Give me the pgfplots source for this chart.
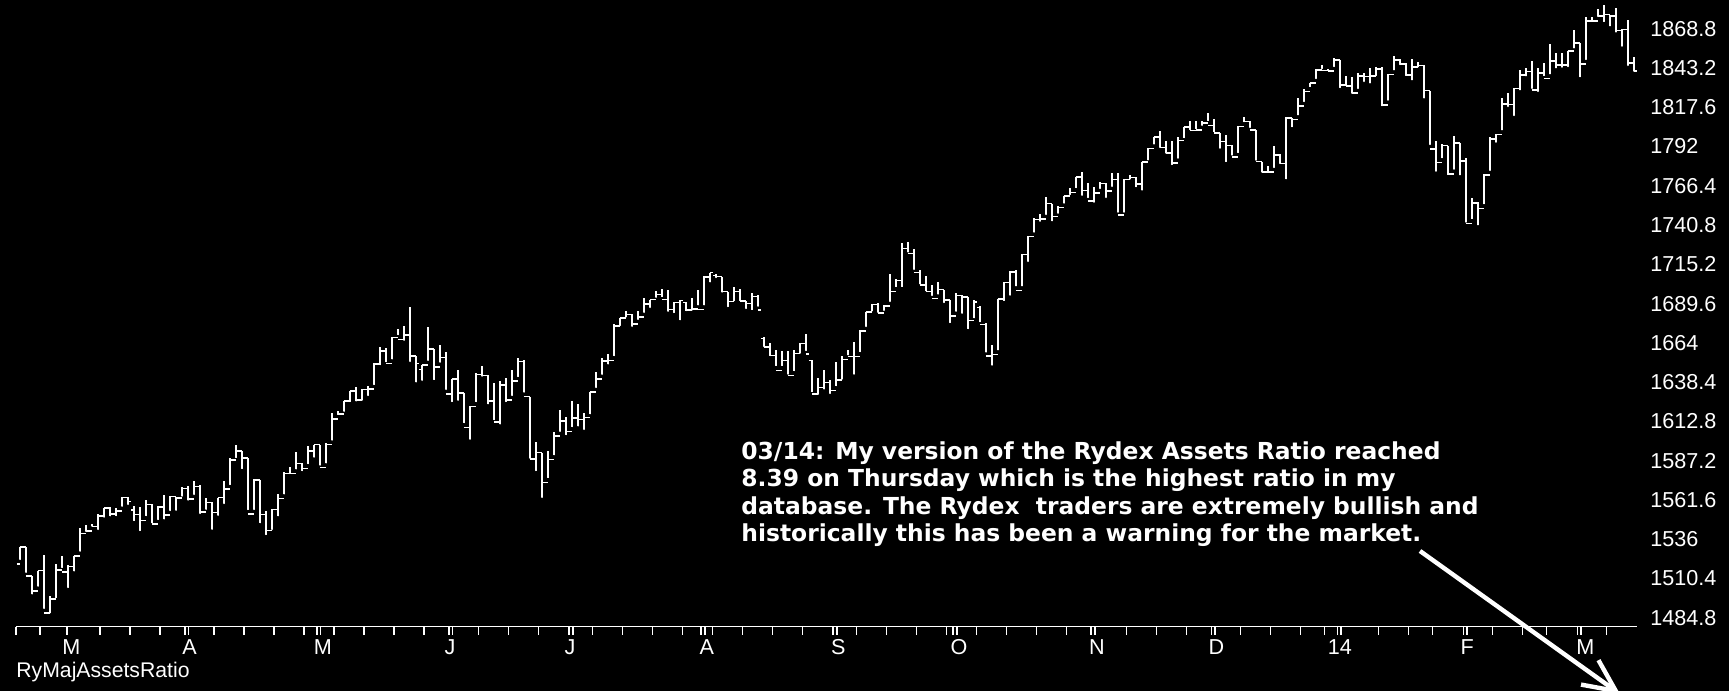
\documentclass[border=0pt]{standalone}
\usepackage{pgfplots}
\pgfplotsset{compat=1.18}
\usepackage{pgfplotstable}
\usepackage{fontspec}
\setmainfont{Liberation Sans}
\newfontfamily\dejavu{DejaVu Sans}
\usetikzlibrary{arrows.meta}

\pgfdeclareplotmark{otick}{\pgfpathmoveto{\pgfqpoint{-\pgfplotmarksize}{0pt}}\pgfpathlineto{\pgfqpoint{0pt}{0pt}}\pgfusepathqstroke}
\pgfdeclareplotmark{ctick}{\pgfpathmoveto{\pgfqpoint{0pt}{0pt}}\pgfpathlineto{\pgfqpoint{\pgfplotmarksize}{0pt}}\pgfusepathqstroke}

\pgfplotstableread{
i o h l c
0 1519.8 1530.9 1519.8 1530.9
1 1530.9 1530.9 1511.4 1511.9
2 1511.9 1511.9 1497.3 1502.4
3 1502.4 1515.6 1502.4 1515.6
4 1515.6 1525.8 1487.9 1487.9
5 1487.9 1498.9 1485.0 1496.9
6 1496.9 1520.1 1494.9 1516.0
7 1516.0 1525.3 1514.5 1514.7
8 1514.7 1519.0 1501.5 1518.2
9 1518.2 1525.3 1512.3 1525.2
10 1525.2 1543.5 1525.2 1539.8
11 1539.8 1545.3 1538.1 1541.5
12 1541.5 1545.8 1541.5 1544.3
13 1544.3 1552.5 1539.4 1551.2
14 1551.2 1556.3 1547.4 1556.2
15 1556.2 1556.8 1548.2 1552.5
16 1552.5 1556.4 1548.3 1554.5
17 1554.5 1563.3 1554.5 1563.2
18 1563.2 1563.6 1555.7 1560.7
19 1555.0 1557.7 1545.1 1552.1
20 1552.1 1557.3 1538.6 1548.3
21 1548.3 1561.6 1548.3 1558.7
22 1558.7 1558.7 1543.6 1545.8
23 1545.8 1557.7 1545.8 1556.9
24 1556.9 1564.9 1546.2 1551.7
25 1551.7 1563.9 1551.7 1563.8
26 1563.8 1563.8 1551.9 1562.9
27 1562.9 1570.3 1561.1 1569.2
28 1569.2 1570.6 1558.5 1562.2
29 1562.2 1573.7 1562.2 1570.3
30 1570.3 1571.5 1549.8 1553.7
31 1553.7 1562.6 1552.5 1560.0
32 1560.0 1560.0 1539.5 1553.3
33 1553.3 1563.1 1548.6 1563.1
34 1563.1 1573.9 1556.3 1568.6
35 1568.6 1589.1 1568.6 1587.7
36 1587.7 1597.4 1586.2 1593.4
37 1593.4 1593.4 1579.0 1588.9
38 1588.9 1588.9 1552.3 1552.4
39 1552.4 1575.4 1552.4 1574.6
40 1574.6 1574.6 1543.7 1552.0
41 1552.0 1554.4 1536.0 1541.6
42 1541.6 1555.9 1539.4 1555.3
43 1555.3 1565.6 1548.2 1562.5
44 1562.5 1579.6 1562.5 1578.8
45 1578.8 1583.0 1575.8 1578.8
46 1578.8 1592.6 1578.8 1585.2
47 1585.2 1585.8 1577.6 1582.2
48 1582.2 1596.7 1582.2 1593.6
49 1593.6 1597.6 1586.5 1597.6
50 1597.6 1597.6 1581.3 1582.7
51 1582.7 1598.6 1582.7 1597.6
52 1597.6 1618.5 1597.6 1614.4
53 1614.4 1619.8 1614.2 1617.5
54 1617.5 1626.0 1616.4 1626.0
55 1626.0 1632.8 1622.7 1632.7
56 1632.7 1635.0 1623.1 1626.7
57 1626.7 1633.7 1623.7 1633.7
58 1633.7 1636.0 1626.7 1633.8
59 1633.8 1651.1 1633.8 1650.3
60 1650.3 1661.5 1646.7 1658.8
61 1658.8 1660.5 1648.6 1650.5
62 1650.5 1667.5 1650.5 1667.5
63 1667.5 1672.8 1666.3 1666.3
64 1666.3 1674.9 1662.7 1669.2
65 1669.2 1687.2 1648.9 1655.4
66 1655.4 1655.4 1635.5 1650.5
67 1646.7 1649.8 1636.6 1649.6
68 1649.6 1674.2 1649.6 1660.1
69 1660.1 1660.1 1637.0 1648.4
70 1648.4 1662.7 1648.4 1654.4
71 1654.4 1658.0 1630.7 1630.7
72 1630.7 1640.4 1622.7 1640.4
73 1640.4 1646.5 1623.6 1631.4
74 1631.4 1631.4 1608.9 1608.9
75 1608.9 1622.6 1598.2 1622.6
76 1622.6 1644.4 1622.6 1643.4
77 1643.4 1648.7 1639.3 1642.8
78 1642.8 1642.8 1621.2 1626.1
79 1626.1 1637.7 1610.9 1612.5
80 1612.5 1639.3 1608.1 1636.4
81 1636.4 1640.8 1622.7 1626.7
82 1626.7 1646.5 1626.7 1639.0
83 1639.0 1654.2 1639.0 1651.8
84 1651.8 1652.5 1628.9 1628.9
85 1628.9 1628.9 1585.8 1588.2
86 1588.2 1599.2 1577.7 1592.4
87 1592.4 1592.4 1560.3 1573.1
88 1573.1 1593.8 1573.1 1588.0
89 1588.0 1606.0 1588.0 1603.3
90 1603.3 1620.1 1603.3 1613.2
91 1613.2 1615.9 1601.1 1606.3
92 1606.3 1626.1 1606.3 1615.0
93 1615.0 1624.3 1606.8 1614.1
94 1614.1 1618.0 1604.6 1615.4
95 1615.4 1632.1 1614.7 1631.9
96 1631.9 1644.7 1631.9 1640.5
97 1640.5 1654.2 1640.5 1652.3
98 1652.3 1656.9 1647.2 1652.6
99 1652.6 1676.3 1652.6 1675.0
100 1675.0 1680.2 1672.3 1680.2
101 1680.2 1684.5 1677.9 1682.5
102 1682.5 1683.0 1671.8 1676.3
103 1676.3 1684.8 1676.3 1680.9
104 1680.9 1693.1 1680.9 1689.4
105 1689.4 1692.1 1684.1 1692.1
106 1692.1 1697.6 1690.7 1695.5
107 1695.5 1698.8 1691.1 1692.4
108 1692.4 1698.4 1681.6 1685.9
109 1685.9 1690.9 1680.7 1690.3
110 1690.3 1691.7 1676.0 1691.7
111 1690.3 1690.9 1681.9 1685.3
112 1685.3 1693.2 1682.4 1686.0
113 1686.0 1698.4 1685.7 1685.7
114 1685.7 1707.9 1685.7 1706.9
115 1706.9 1709.7 1700.7 1709.7
116 1708.0 1709.2 1703.6 1707.1
117 1707.1 1707.1 1694.1 1697.4
118 1697.4 1697.4 1684.6 1690.9
119 1690.9 1700.2 1688.4 1697.5
120 1697.5 1699.4 1688.5 1691.4
121 1691.4 1691.4 1683.4 1689.5
122 1689.5 1696.8 1682.6 1694.2
123 1694.2 1695.0 1684.9 1685.4
124 1667.0 1668.0 1658.6 1661.3
125 1661.3 1663.6 1652.6 1655.8
126 1655.8 1659.2 1646.1 1646.1
127 1646.1 1658.9 1646.1 1652.4
128 1652.4 1658.4 1640.6 1642.8
129 1642.8 1659.6 1642.8 1657.0
130 1657.0 1664.0 1654.3 1663.5
131 1663.5 1669.5 1656.0 1656.8
132 1652.5 1652.5 1629.1 1630.5
133 1630.5 1641.2 1627.5 1635.0
134 1635.0 1646.4 1630.9 1638.2
135 1638.2 1640.1 1628.0 1633.0
136 1633.0 1651.4 1633.0 1639.8
137 1639.8 1655.7 1637.4 1653.1
138 1653.1 1659.1 1653.1 1655.1
139 1655.1 1664.8 1640.6 1655.2
140 1655.2 1672.4 1655.2 1671.7
141 1671.7 1684.1 1671.7 1684.0
142 1684.0 1689.1 1681.8 1689.1
143 1689.1 1689.9 1680.9 1683.4
144 1683.4 1688.4 1682.2 1688.0
145 1688.0 1709.2 1688.0 1697.6
146 1697.6 1705.5 1697.6 1704.8
147 1704.8 1729.4 1697.6 1725.5
148 1725.5 1729.9 1720.2 1722.3
149 1722.3 1725.2 1708.9 1709.9
150 1709.9 1711.4 1699.4 1701.8
151 1701.8 1707.6 1694.9 1697.4
152 1697.4 1701.7 1691.9 1692.8
153 1692.8 1703.9 1692.8 1698.7
154 1698.7 1698.7 1687.3 1691.8
155 1691.8 1691.8 1674.2 1681.6
156 1681.6 1696.5 1681.6 1695.0
157 1695.0 1695.0 1680.3 1693.9
158 1693.9 1693.9 1670.2 1678.7
159 1678.7 1691.9 1677.3 1690.5
160 1687.2 1687.8 1674.7 1676.1
161 1676.1 1676.8 1655.0 1655.5
162 1655.5 1662.4 1646.5 1656.4
163 1656.4 1692.6 1656.4 1692.6
164 1692.6 1703.4 1688.5 1703.2
165 1703.2 1711.0 1692.1 1710.1
166 1710.1 1711.2 1698.1 1698.1
167 1698.1 1721.8 1698.1 1721.5
168 1721.5 1733.5 1714.1 1733.2
169 1733.2 1745.3 1733.2 1744.5
170 1744.5 1747.8 1740.3 1744.7
171 1744.7 1759.3 1744.7 1754.7
172 1754.7 1754.7 1740.5 1746.4
173 1746.4 1753.4 1745.5 1752.1
174 1752.1 1759.8 1752.1 1759.8
175 1759.8 1764.8 1757.7 1762.1
176 1762.1 1772.1 1762.1 1772.0
177 1772.0 1775.2 1757.2 1763.3
178 1763.3 1768.5 1755.7 1756.5
179 1756.5 1765.7 1752.7 1761.6
180 1761.6 1768.8 1761.6 1767.9
181 1767.9 1767.9 1755.8 1763.0
182 1763.0 1774.5 1763.0 1770.5
183 1770.5 1774.5 1746.2 1747.2
184 1747.2 1770.8 1746.2 1770.6
185 1770.6 1773.4 1767.8 1771.9
186 1771.9 1771.9 1762.7 1767.7
187 1767.7 1782.0 1760.6 1782.0
188 1782.0 1791.0 1780.2 1790.6
189 1790.6 1798.2 1790.6 1798.2
190 1798.2 1802.3 1788.4 1791.5
191 1791.5 1795.5 1784.7 1787.9
192 1787.9 1795.6 1777.2 1781.4
193 1781.4 1798.2 1781.4 1795.9
194 1795.9 1804.8 1794.7 1804.8
195 1804.8 1808.4 1800.0 1802.5
196 1802.5 1808.4 1800.6 1802.8
197 1802.8 1808.4 1802.8 1807.2
198 1807.2 1813.6 1805.8 1805.8
199 1805.8 1810.0 1798.6 1800.9
200 1800.9 1800.9 1787.9 1795.2
201 1795.2 1799.8 1779.1 1792.8
202 1792.8 1792.8 1783.4 1785.0
203 1785.0 1805.1 1785.0 1805.1
204 1805.1 1811.5 1805.1 1808.4
205 1808.4 1808.4 1801.4 1802.6
206 1802.6 1802.6 1780.1 1782.2
207 1782.2 1782.2 1772.3 1775.5
208 1775.5 1779.4 1772.9 1775.3
209 1775.3 1792.2 1775.3 1786.5
210 1786.5 1786.8 1777.9 1781.0
211 1781.0 1811.1 1767.9 1810.6
212 1810.6 1810.6 1801.8 1809.6
213 1809.6 1823.8 1809.6 1818.3
214 1818.3 1829.8 1818.3 1828.0
215 1828.0 1833.3 1828.0 1833.3
216 1833.3 1842.8 1833.3 1842.0
217 1842.0 1844.9 1839.8 1841.4
218 1841.4 1842.5 1838.8 1841.1
219 1841.1 1849.4 1841.1 1848.4
220 1848.4 1848.4 1827.4 1832.0
221 1832.0 1838.2 1829.1 1831.4
222 1831.4 1837.2 1823.7 1826.8
223 1826.8 1840.1 1826.8 1837.9
224 1837.9 1840.0 1831.4 1837.5
225 1837.5 1843.2 1830.4 1838.1
226 1838.1 1843.8 1835.2 1842.4
227 1842.4 1843.5 1815.5 1819.2
228 1819.2 1839.3 1819.2 1838.9
229 1838.9 1850.8 1838.9 1848.4
230 1848.4 1849.3 1842.4 1845.9
231 1845.9 1846.5 1835.2 1838.7
232 1838.7 1849.3 1832.4 1843.8
233 1843.8 1846.9 1840.9 1844.9
234 1844.9 1844.9 1820.6 1828.5
235 1828.5 1828.5 1790.3 1790.3
236 1790.3 1795.4 1772.9 1781.6
237 1781.6 1793.9 1781.6 1792.5
238 1792.5 1792.5 1770.6 1774.2
239 1774.2 1798.8 1774.2 1794.2
240 1794.2 1794.2 1770.5 1782.6
241 1782.6 1784.8 1739.7 1741.9
242 1741.9 1758.7 1741.9 1755.2
243 1755.2 1755.8 1737.9 1751.6
244 1751.6 1774.1 1751.6 1773.4
245 1773.4 1798.0 1773.4 1797.0
246 1797.0 1799.9 1791.8 1799.8
247 1799.8 1823.5 1799.8 1819.8
248 1819.8 1826.6 1815.1 1819.3
249 1819.3 1830.1 1809.2 1829.8
250 1829.8 1841.7 1825.9 1838.6
251 1838.6 1842.9 1835.0 1840.8
252 1840.8 1847.5 1826.9 1828.8
253 1828.8 1842.9 1824.9 1839.8
254 1839.8 1846.7 1835.2 1836.3
255 1836.3 1858.7 1836.3 1847.6
256 1847.6 1852.9 1840.2 1845.1
257 1845.1 1852.7 1840.7 1845.2
258 1845.2 1854.5 1841.1 1854.3
259 1854.3 1867.9 1853.2 1859.5
260 1859.5 1859.5 1834.4 1845.7
261 1845.7 1876.2 1845.7 1873.9
262 1873.9 1876.5 1871.1 1873.8
263 1873.8 1881.9 1873.8 1877.0
264 1877.0 1884.0 1870.4 1878.0
265 1878.0 1878.0 1867.6 1877.2
266 1877.2 1882.4 1863.6 1867.6
267 1867.6 1868.4 1854.4 1868.2
268 1868.2 1874.4 1841.9 1846.3
269 1846.3 1850.6 1838.1 1841.1
}\ohlc

\begin{document}
\begin{tikzpicture}
\fill[black] (0,0) rectangle (864.5pt,345.5pt);
\useasboundingbox (0,0) rectangle (864.5pt,345.5pt);
\begin{axis}[
  at={(8pt,32.25pt)}, anchor=south west,
  scale only axis, width=810.5pt, height=313.25pt,
  xmin=-0.63, xmax=269.5, ymin=1479.1, ymax=1887.5,
  axis x line*=bottom, axis y line*=right,
  x axis line style={white, line width=0.9pt},
  y axis line style={draw=none},
  xtick={-0.63,3.4,7.9,13.4,18.4,23.4,27.55,28.15,32.4,37.4,42.4,47.4,49.55,50.15,52.4,57.4,62.4,67.4,71.55,72.15,76.4,81.4,86.4,91.55,92.15,95.4,100.4,105.4,110.4,113.55,114.15,115.4,120.4,125.4,130.4,135.55,136.15,139.4,144.4,149.4,154.4,155.55,156.15,159.4,164.4,169.4,174.4,178.55,179.15,184.4,189.4,194.4,198.55,199.15,203.4,208.4,213.4,217.4,219.55,220.15,226.4,231.4,235.4,240.55,241.15,245.4,250.4,254.4,259.55,260.15,264.4},
  xticklabels={},
  xtick align=outside,
  major tick length=4pt,
  xtick style={white, line width=0.75pt},
  extra x ticks={8.6,28.3,50.5,71.7,91.7,114.5,136.4,156.5,179.5,199.4,220,241.2,260.9},
  extra x tick labels={M,A,M,J,J,A,S,O,N,D,14,F,M},
  extra x tick style={major tick length=0pt, tick style={draw=none},
    xticklabel style={anchor=center, yshift=-10.25pt}},
  ytick={1484.8,1510.4,1536,1561.6,1587.2,1612.8,1638.4,1664,1689.6,1715.2,1740.8,1766.4,1792,1817.6,1843.2,1868.8},
  yticklabels={1484.8,1510.4,1536,1561.6,1587.2,1612.8,1638.4,1664,1689.6,1715.2,1740.8,1766.4,1792,1817.6,1843.2,1868.8},
  yticklabel pos=right,
  ytick style={draw=none},
  yticklabel style={anchor=west, inner sep=0pt, xshift=6.5pt},
  tick label style={font=\fontsize{10.8}{13}\selectfont, text=white},
  clip=false,
]
\addplot[only marks, mark=none, forget plot,
  error bars/.cd, y dir=plus, y explicit, error mark=none,
  error bar style={draw=white, solid, line width=0.75pt}]
  table[x=i, y=l, y error expr=\thisrow{h}-\thisrow{l}] {\ohlc};
\addplot[only marks, mark=otick, mark size=1.5pt, white, line width=0.75pt,
  mark options={solid}] table[x=i, y=o] {\ohlc};
\addplot[only marks, mark=ctick, mark size=1.5pt, white, line width=0.75pt,
  mark options={solid}] table[x=i, y=c] {\ohlc};
\end{axis}
\node[anchor=west, inner sep=0pt, text=white, font=\fontsize{10.6}{13}\selectfont] at (8pt,9.5pt) {RyMajAssetsRatio};
\node[anchor=north west, inner sep=0pt, align=left, text=white,
  font=\dejavu\bfseries\fontsize{11.7}{13.75}\selectfont] at (370.5pt,125pt)
  {03/14: My version of the Rydex Assets Ratio reached\\
   8.39 on Thursday which is the highest ratio in my\\
   database. The Rydex~ traders are extremely bullish and\\
   historically this has been a warning for the market.};
\draw[white, line width=2.2pt, -{Straight Barb[length=16pt, width=15pt, line width=2.2pt]}] (710pt,70pt) -- (810pt,-1.5pt);
\end{tikzpicture}
\end{document}
